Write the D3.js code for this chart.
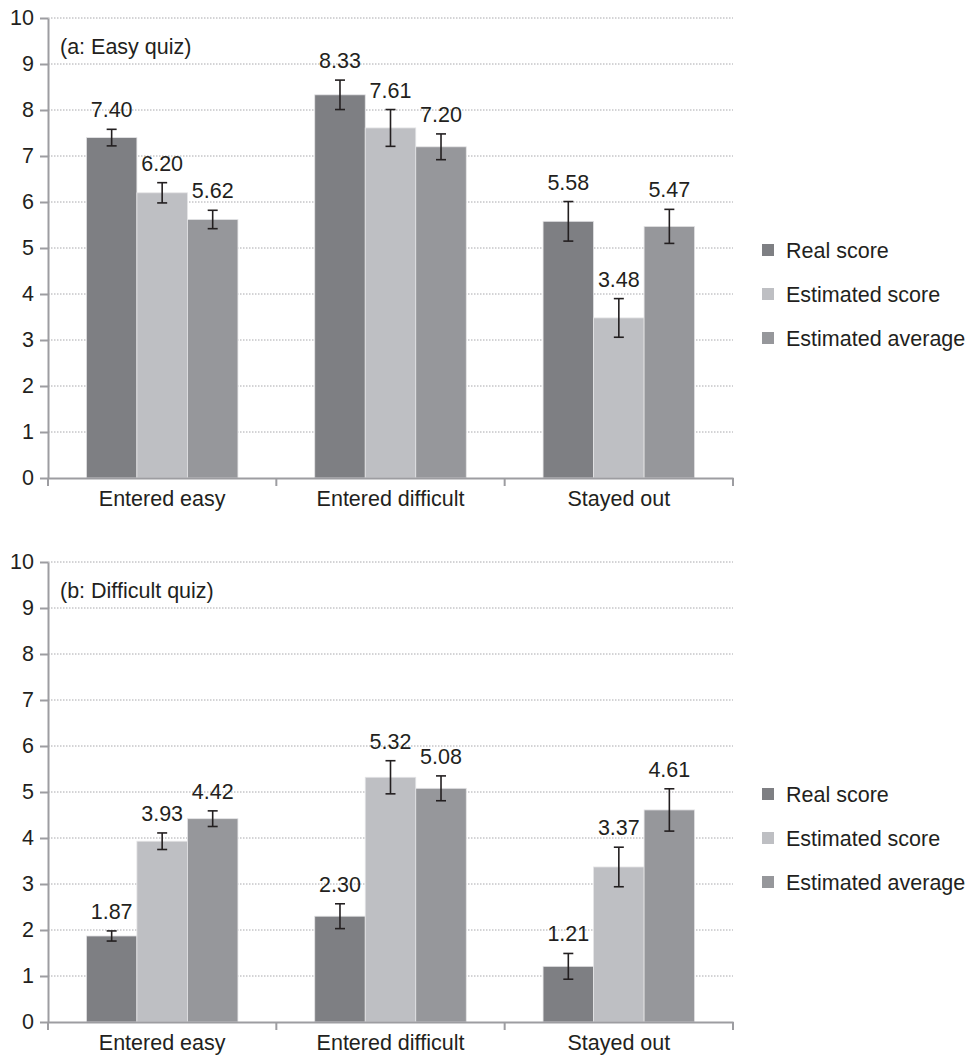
<!DOCTYPE html>
<html>
<head>
<meta charset="utf-8">
<script src="https://cdn.jsdelivr.net/npm/d3@7"></script>
<style>
  body { margin: 0; background: #fff; }
  text { font-family: "Liberation Sans", Arial, sans-serif; fill: #231f20; }
</style>
</head>
<body>
<svg id="chart" width="974" height="1059"></svg>
<script>
// categories and series
let categories = ['Entered easy', 'Entered difficult', 'Stayed out'];
let series = ['Real score', 'Estimated score', 'Estimated average'];
let y_ticks = [0, 1, 2, 3, 4, 5, 6, 7, 8, 9, 10];

// (a: Easy quiz) values, per series, per category
let easy_real = [7.40, 8.33, 5.58];
let easy_est_score = [6.20, 7.61, 3.48];
let easy_est_avg = [5.62, 7.20, 5.47];
// error bar half widths
let easy_real_err = [0.18, 0.32, 0.43];
let easy_est_score_err = [0.22, 0.40, 0.42];
let easy_est_avg_err = [0.20, 0.28, 0.37];

// (b: Difficult quiz)
let diff_real = [1.87, 2.30, 1.21];
let diff_est_score = [3.93, 5.32, 3.37];
let diff_est_avg = [4.42, 5.08, 4.61];
let diff_real_err = [0.11, 0.27, 0.28];
let diff_est_score_err = [0.18, 0.36, 0.43];
let diff_est_avg_err = [0.17, 0.27, 0.46];

let colors = ['#7e7f83', '#bebfc3', '#96979b'];
let AXIS_COLOR = '#9d9da1';
let FONT = '21.5px';

let LEFT = 48, RIGHT = 733, PLOT_H = 460;

let svg = d3.select('#chart');

function build_rows(vals, errs) {
    let rows = [];
    categories.forEach((c, ci) => {
        series.forEach((s, si) => {
            rows.push({cat: c, ser: s, value: vals[si][ci], err: errs[si][ci], si: si});
        });
    });
    return rows;
}

function draw_panel(top, title, vals, errs) {
    let g = svg.append('g').attr('transform', `translate(0,${top})`);
    let rows = build_rows(vals, errs);

    let x0 = d3.scaleBand().domain(categories).range([LEFT, RIGHT]).padding(0);
    let x1 = d3.scaleBand().domain(series).range([0, x0.bandwidth()])
        .paddingInner(0).paddingOuter(0.76);
    let y = d3.scaleLinear().domain([0, 10]).range([PLOT_H, 0]);

    // gridlines
    g.append('g')
        .selectAll('line')
        .data(y_ticks.filter(d => d > 0))
        .join('line')
        .attr('x1', LEFT).attr('x2', RIGHT)
        .attr('y1', d => y(d)).attr('y2', d => y(d))
        .attr('stroke', '#a8a8ac')
        .attr('stroke-width', 1)
        .attr('stroke-dasharray', '1.5,1.5');

    // bars
    g.append('g')
        .selectAll('rect')
        .data(rows)
        .join('rect')
        .attr('x', d => x0(d.cat) + x1(d.ser))
        .attr('y', d => y(d.value))
        .attr('width', x1.bandwidth())
        .attr('height', d => y(0) - y(d.value))
        .attr('fill', d => colors[d.si])
        .attr('stroke', '#e4e4e6')
        .attr('stroke-width', 0.8);

    // error bars
    let eb = g.append('g').attr('stroke', '#231f20').attr('stroke-width', 1.6);
    rows.forEach(d => {
        let cx = x0(d.cat) + x1(d.ser) + x1.bandwidth() / 2;
        let yt = y(d.value + d.err), yb = y(d.value - d.err);
        eb.append('line').attr('x1', cx).attr('x2', cx).attr('y1', yt).attr('y2', yb);
        eb.append('line').attr('x1', cx - 5).attr('x2', cx + 5).attr('y1', yt).attr('y2', yt);
        eb.append('line').attr('x1', cx - 5).attr('x2', cx + 5).attr('y1', yb).attr('y2', yb);
    });

    // value labels
    g.append('g')
        .selectAll('text')
        .data(rows)
        .join('text')
        .attr('x', d => x0(d.cat) + x1(d.ser) + x1.bandwidth() / 2)
        .attr('y', d => y(d.value + d.err) - 12)
        .attr('text-anchor', 'middle')
        .style('font-size', FONT)
        .text(d => d.value.toFixed(2));

    // y axis
    let ya = g.append('g')
        .attr('transform', `translate(${LEFT},0)`)
        .call(d3.axisLeft(y).tickValues(y_ticks).tickSize(8).tickPadding(6).tickSizeOuter(0));
    ya.select('.domain').attr('stroke', AXIS_COLOR).attr('stroke-width', 2);
    ya.selectAll('.tick line').attr('stroke', AXIS_COLOR).attr('stroke-width', 2);
    ya.selectAll('.tick text').style('font-size', FONT).attr('font-family', null).attr('fill', '#231f20');

    // x axis
    let xa = g.append('g')
        .attr('transform', `translate(0,${PLOT_H})`)
        .call(d3.axisBottom(x0).tickSize(0).tickSizeOuter(0).tickPadding(13));
    xa.select('.domain').attr('stroke', AXIS_COLOR).attr('stroke-width', 2);
    xa.selectAll('.tick text').style('font-size', FONT).attr('font-family', null).attr('fill', '#231f20');

    // category boundary ticks
    let bounds = categories.map(c => x0(c)).concat([RIGHT]);
    g.append('g')
        .selectAll('line')
        .data(bounds)
        .join('line')
        .attr('x1', d => d).attr('x2', d => d)
        .attr('y1', PLOT_H).attr('y2', PLOT_H + 8)
        .attr('stroke', AXIS_COLOR).attr('stroke-width', 2);

    // panel title
    g.append('text')
        .attr('x', 60).attr('y', 36)
        .style('font-size', FONT)
        .text(title);

    // legend
    let lg = g.append('g').attr('transform', `translate(762,${232})`);
    series.forEach((s, i) => {
        let row = lg.append('g').attr('transform', `translate(0,${i * 44})`);
        row.append('rect').attr('x', 0).attr('y', -6).attr('width', 12).attr('height', 12)
            .attr('fill', colors[i]);
        row.append('text').attr('x', 24).attr('y', 7.5)
            .style('font-size', FONT)
            .text(s);
    });
}

draw_panel(18, '(a: Easy quiz)', [easy_real, easy_est_score, easy_est_avg],
    [easy_real_err, easy_est_score_err, easy_est_avg_err]);
draw_panel(562, '(b: Difficult quiz)', [diff_real, diff_est_score, diff_est_avg],
    [diff_real_err, diff_est_score_err, diff_est_avg_err]);
</script>
</body>
</html>
